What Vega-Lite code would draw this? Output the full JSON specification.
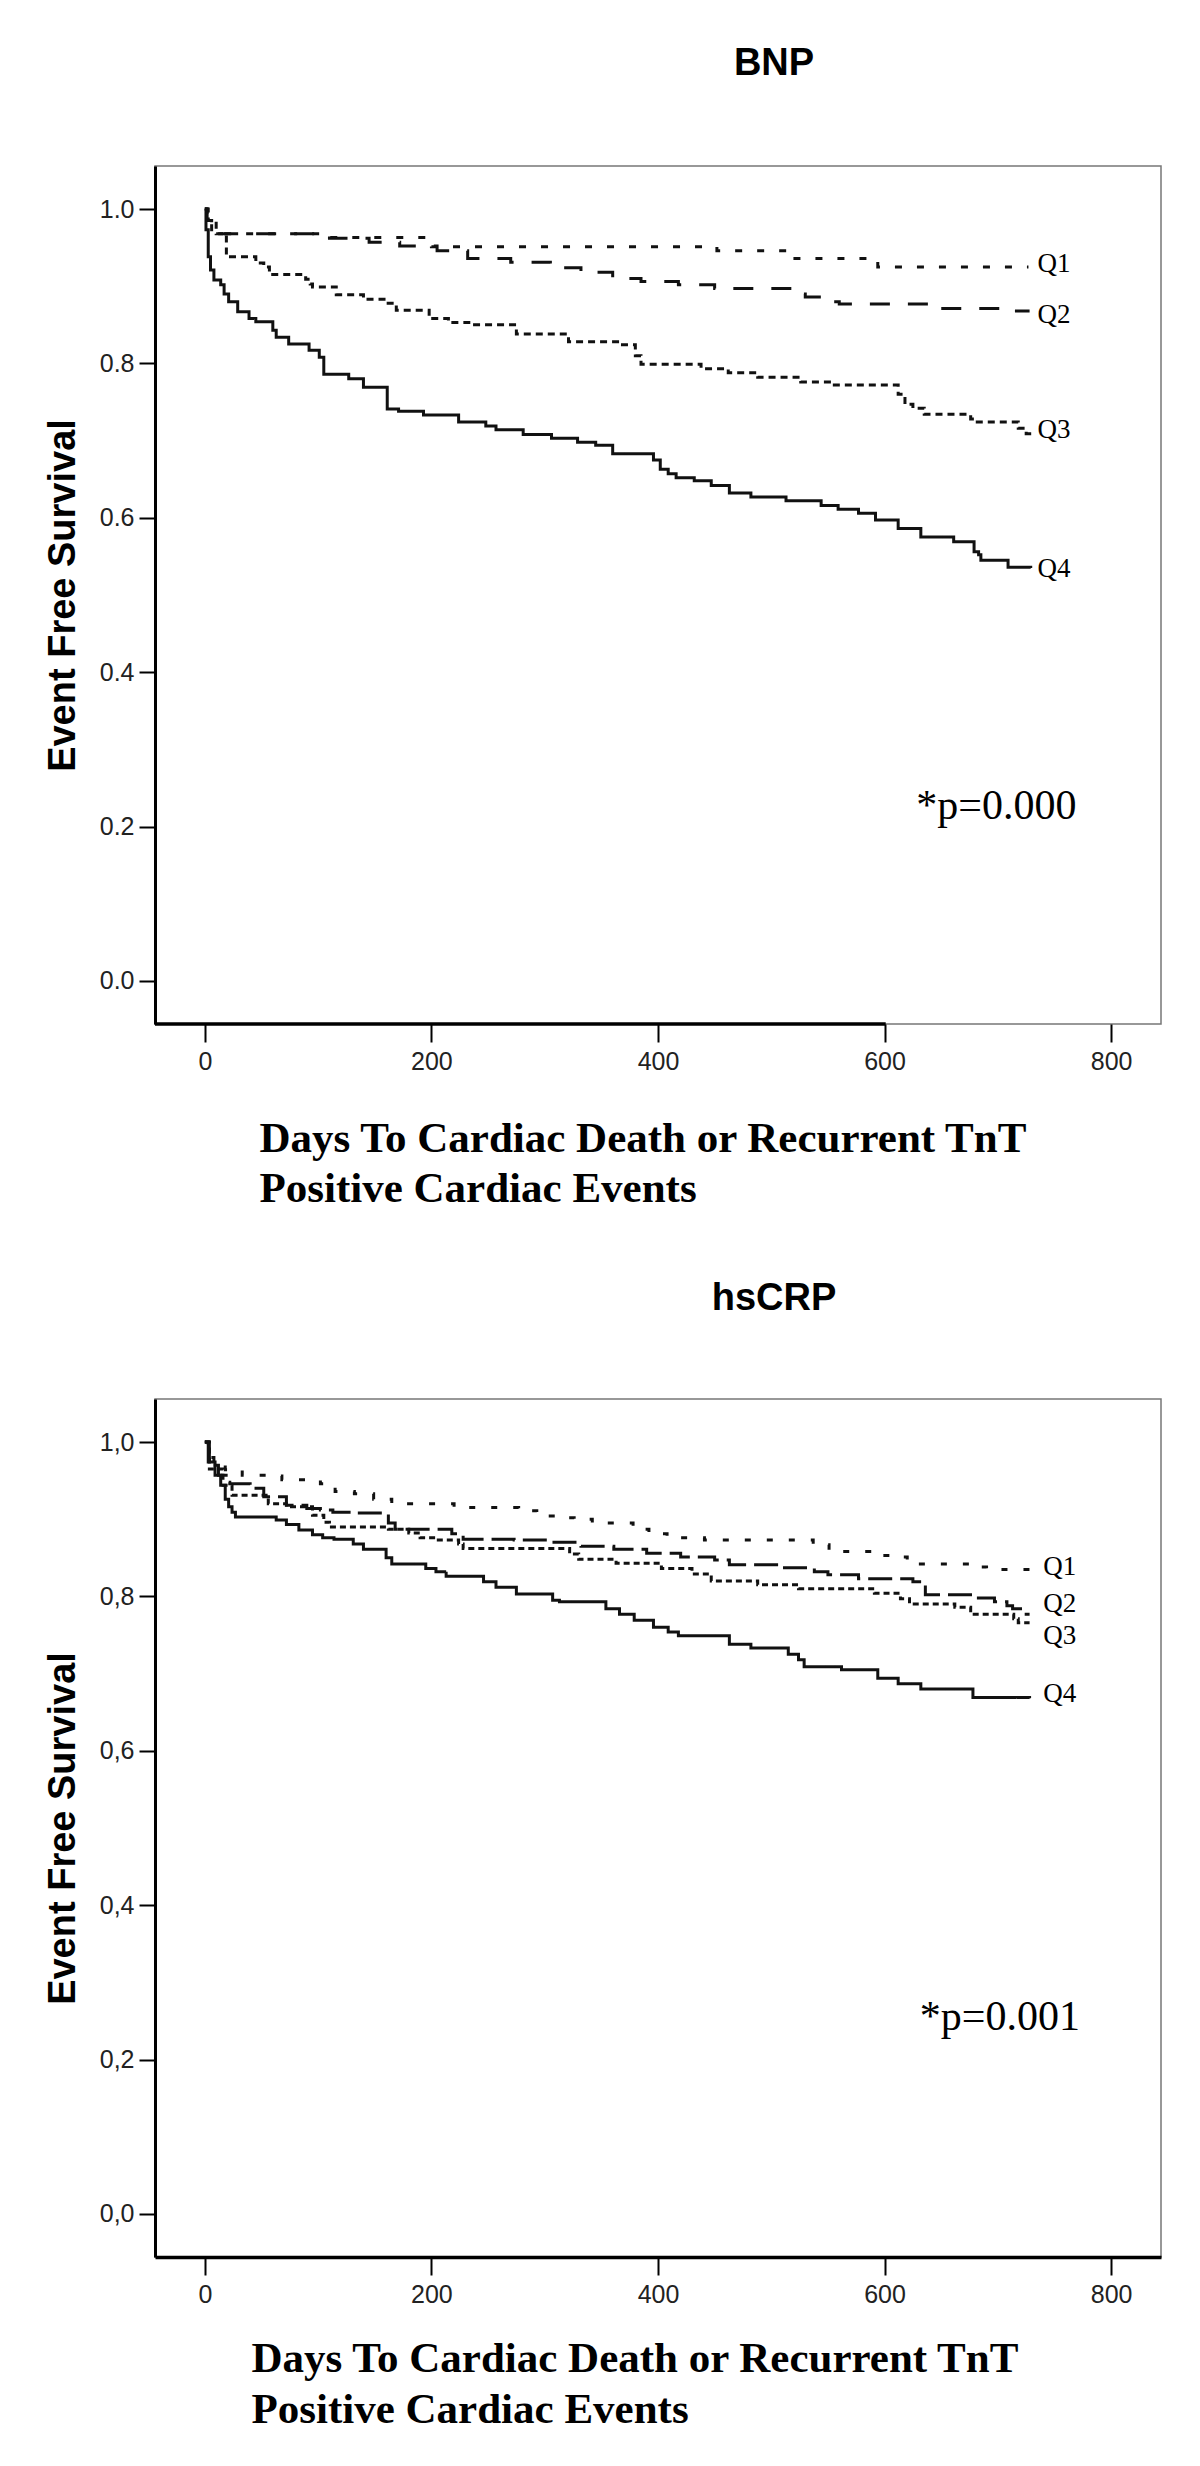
{
  "$schema": "https://vega.github.io/schema/vega-lite/v6.json",
  "padding": {"left": 43, "top": 44, "right": 5, "bottom": 5},
  "background": "white",
  "config": {
    "view": {"stroke": "#777", "strokeWidth": 1.5},
    "axis": {"grid": false, "domainColor": "#000", "domainWidth": 3, "tickColor": "#000", "tickWidth": 2, "labelFont": "Liberation Sans", "labelFontSize": 25, "labelColor": "#222"}
  },
  "spacing": 375,
  "bounds": "flush",
  "resolve": {"scale": {"x": "independent", "y": "independent", "strokeDash": "independent"}},
  "vconcat": [
    {
      "width": 1006,
      "height": 858,
      "title": {"text": "BNP", "font": "Liberation Sans", "fontSize": 38, "fontWeight": "bold", "anchor": "middle", "dx": 116, "offset": 64, "baseline": "middle", "color": "#000"},
      "layer": [
        {
          "data": {"values": [
            {"group": "Q1", "day": 0, "surv": 1}, {"group": "Q1", "day": 2, "surv": 0.985}, {"group": "Q1", "day": 6, "surv": 0.968}, {"group": "Q1", "day": 105, "surv": 0.963}, {"group": "Q1", "day": 200, "surv": 0.951}, {"group": "Q1", "day": 452, "surv": 0.946}, {"group": "Q1", "day": 517, "surv": 0.936}, {"group": "Q1", "day": 594, "surv": 0.925}, {"group": "Q1", "day": 727, "surv": 0.925},
            {"group": "Q2", "day": 0, "surv": 1}, {"group": "Q2", "day": 2, "surv": 0.985}, {"group": "Q2", "day": 6, "surv": 0.968}, {"group": "Q2", "day": 110, "surv": 0.962}, {"group": "Q2", "day": 145, "surv": 0.957}, {"group": "Q2", "day": 172, "surv": 0.952}, {"group": "Q2", "day": 205, "surv": 0.946}, {"group": "Q2", "day": 232, "surv": 0.936}, {"group": "Q2", "day": 270, "surv": 0.931}, {"group": "Q2", "day": 305, "surv": 0.924}, {"group": "Q2", "day": 332, "surv": 0.918}, {"group": "Q2", "day": 360, "surv": 0.91}, {"group": "Q2", "day": 385, "surv": 0.906}, {"group": "Q2", "day": 418, "surv": 0.902}, {"group": "Q2", "day": 450, "surv": 0.897}, {"group": "Q2", "day": 520, "surv": 0.89}, {"group": "Q2", "day": 530, "surv": 0.886}, {"group": "Q2", "day": 545, "surv": 0.88}, {"group": "Q2", "day": 560, "surv": 0.877}, {"group": "Q2", "day": 640, "surv": 0.871}, {"group": "Q2", "day": 712, "surv": 0.868}, {"group": "Q2", "day": 728, "surv": 0.868},
            {"group": "Q3", "day": 0, "surv": 1}, {"group": "Q3", "day": 3, "surv": 0.985}, {"group": "Q3", "day": 10, "surv": 0.968}, {"group": "Q3", "day": 19, "surv": 0.94}, {"group": "Q3", "day": 21, "surv": 0.938}, {"group": "Q3", "day": 45, "surv": 0.93}, {"group": "Q3", "day": 52, "surv": 0.925}, {"group": "Q3", "day": 57, "surv": 0.915}, {"group": "Q3", "day": 89, "surv": 0.909}, {"group": "Q3", "day": 93, "surv": 0.903}, {"group": "Q3", "day": 95, "surv": 0.899}, {"group": "Q3", "day": 116, "surv": 0.889}, {"group": "Q3", "day": 140, "surv": 0.883}, {"group": "Q3", "day": 160, "surv": 0.878}, {"group": "Q3", "day": 169, "surv": 0.869}, {"group": "Q3", "day": 198, "surv": 0.858}, {"group": "Q3", "day": 215, "surv": 0.853}, {"group": "Q3", "day": 233, "surv": 0.85}, {"group": "Q3", "day": 275, "surv": 0.838}, {"group": "Q3", "day": 321, "surv": 0.828}, {"group": "Q3", "day": 366, "surv": 0.824}, {"group": "Q3", "day": 380, "surv": 0.81}, {"group": "Q3", "day": 385, "surv": 0.799}, {"group": "Q3", "day": 438, "surv": 0.793}, {"group": "Q3", "day": 462, "surv": 0.788}, {"group": "Q3", "day": 488, "surv": 0.782}, {"group": "Q3", "day": 526, "surv": 0.776}, {"group": "Q3", "day": 553, "surv": 0.772}, {"group": "Q3", "day": 612, "surv": 0.76}, {"group": "Q3", "day": 618, "surv": 0.747}, {"group": "Q3", "day": 625, "surv": 0.742}, {"group": "Q3", "day": 635, "surv": 0.734}, {"group": "Q3", "day": 676, "surv": 0.728}, {"group": "Q3", "day": 679, "surv": 0.724}, {"group": "Q3", "day": 718, "surv": 0.716}, {"group": "Q3", "day": 725, "surv": 0.709}, {"group": "Q3", "day": 730, "surv": 0.709},
            {"group": "Q4", "day": 0, "surv": 1}, {"group": "Q4", "day": 1, "surv": 0.973}, {"group": "Q4", "day": 3, "surv": 0.938}, {"group": "Q4", "day": 5, "surv": 0.921}, {"group": "Q4", "day": 8, "surv": 0.908}, {"group": "Q4", "day": 14, "surv": 0.902}, {"group": "Q4", "day": 17, "surv": 0.89}, {"group": "Q4", "day": 21, "surv": 0.88}, {"group": "Q4", "day": 29, "surv": 0.867}, {"group": "Q4", "day": 39, "surv": 0.858}, {"group": "Q4", "day": 45, "surv": 0.854}, {"group": "Q4", "day": 60, "surv": 0.843}, {"group": "Q4", "day": 63, "surv": 0.834}, {"group": "Q4", "day": 74, "surv": 0.825}, {"group": "Q4", "day": 92, "surv": 0.817}, {"group": "Q4", "day": 101, "surv": 0.808}, {"group": "Q4", "day": 105, "surv": 0.786}, {"group": "Q4", "day": 127, "surv": 0.78}, {"group": "Q4", "day": 140, "surv": 0.769}, {"group": "Q4", "day": 161, "surv": 0.741}, {"group": "Q4", "day": 171, "surv": 0.738}, {"group": "Q4", "day": 193, "surv": 0.733}, {"group": "Q4", "day": 224, "surv": 0.724}, {"group": "Q4", "day": 248, "surv": 0.719}, {"group": "Q4", "day": 257, "surv": 0.714}, {"group": "Q4", "day": 281, "surv": 0.708}, {"group": "Q4", "day": 306, "surv": 0.703}, {"group": "Q4", "day": 329, "surv": 0.698}, {"group": "Q4", "day": 345, "surv": 0.694}, {"group": "Q4", "day": 360, "surv": 0.683}, {"group": "Q4", "day": 396, "surv": 0.675}, {"group": "Q4", "day": 402, "surv": 0.663}, {"group": "Q4", "day": 409, "surv": 0.657}, {"group": "Q4", "day": 416, "surv": 0.652}, {"group": "Q4", "day": 432, "surv": 0.648}, {"group": "Q4", "day": 447, "surv": 0.642}, {"group": "Q4", "day": 463, "surv": 0.632}, {"group": "Q4", "day": 482, "surv": 0.627}, {"group": "Q4", "day": 513, "surv": 0.622}, {"group": "Q4", "day": 544, "surv": 0.616}, {"group": "Q4", "day": 559, "surv": 0.611}, {"group": "Q4", "day": 577, "surv": 0.606}, {"group": "Q4", "day": 592, "surv": 0.597}, {"group": "Q4", "day": 612, "surv": 0.586}, {"group": "Q4", "day": 632, "surv": 0.575}, {"group": "Q4", "day": 661, "surv": 0.569}, {"group": "Q4", "day": 679, "surv": 0.556}, {"group": "Q4", "day": 683, "surv": 0.552}, {"group": "Q4", "day": 685, "surv": 0.545}, {"group": "Q4", "day": 709, "surv": 0.536}, {"group": "Q4", "day": 729, "surv": 0.535}
          ]},
          "mark": {"type": "line", "interpolate": "step-after", "strokeWidth": 3, "color": "#111"},
          "encoding": {
            "x": {"field": "day", "type": "quantitative", "scale": {"domain": [-44, 844], "nice": false, "zero": false},
                  "axis": {"values": [0, 200, 400, 600, 800], "format": "d", "domain": false, "tickSize": 18, "labelPadding": 7,
                           "title": ["Days To Cardiac Death or Recurrent TnT", "Positive Cardiac Events"], "titleFont": "Liberation Serif", "titleFontSize": 43, "titleFontWeight": "bold", "titleColor": "#000",
                           "titleAlign": "left", "titleAnchor": "start", "titleX": 104, "titleY": 127, "titleBaseline": "alphabetic", "titleLineHeight": 50}},
            "y": {"field": "surv", "type": "quantitative", "scale": {"domain": [-0.0557, 1.0557], "nice": false, "zero": false},
                  "axis": {"values": [0, 0.2, 0.4, 0.6, 0.8, 1], "format": ".1f", "tickSize": 16, "labelPadding": 5,
                           "title": "Event Free Survival", "titleFont": "Liberation Sans", "titleFontSize": 38, "titleFontWeight": "bold", "titleColor": "#000",
                           "titleX": -92, "titleY": 429, "titleAngle": 270, "titleBaseline": "middle", "titleAlign": "center"}},
            "strokeDash": {"field": "group", "type": "nominal", "scale": {"domain": ["Q1", "Q2", "Q3", "Q4"], "range": [[7, 15], [20, 18], [7, 5], [1, 0]]}, "legend": null}
          }
        },
        {
          "data": {"values": [
            {"label": "Q1", "day": 735, "surv": 0.918}, {"label": "Q2", "day": 735, "surv": 0.852}, {"label": "Q3", "day": 735, "surv": 0.703}, {"label": "Q4", "day": 735, "surv": 0.523}
          ]},
          "mark": {"type": "text", "font": "Liberation Serif", "fontSize": 27, "align": "left", "baseline": "alphabetic", "color": "#000"},
          "encoding": {"x": {"field": "day", "type": "quantitative"}, "y": {"field": "surv", "type": "quantitative"}, "text": {"field": "label"}}
        },
        {
          "data": {"values": [{"label": "*p=0.000", "day": 628, "surv": 0.21}]},
          "mark": {"type": "text", "font": "Liberation Serif", "fontSize": 42, "align": "left", "baseline": "alphabetic", "color": "#000"},
          "encoding": {"x": {"field": "day", "type": "quantitative"}, "y": {"field": "surv", "type": "quantitative"}, "text": {"field": "label"}}
        },
        {
          "data": {"values": [{}]},
          "mark": {"type": "rule", "color": "#000", "strokeWidth": 3.5},
          "encoding": {"x": {"datum": -44}, "x2": {"datum": 601}, "y": {"datum": -0.0557}}
        }
      ]
    },
    {
      "width": 1006,
      "height": 858,
      "title": {"text": "hsCRP", "font": "Liberation Sans", "fontSize": 38, "fontWeight": "bold", "anchor": "middle", "dx": 116, "offset": 62, "baseline": "middle", "color": "#000"},
      "layer": [
        {
          "data": {"values": [
            {"group": "Q1", "day": 0, "surv": 1}, {"group": "Q1", "day": 3, "surv": 0.98}, {"group": "Q1", "day": 8, "surv": 0.97}, {"group": "Q1", "day": 18, "surv": 0.964}, {"group": "Q1", "day": 33, "surv": 0.957}, {"group": "Q1", "day": 55, "surv": 0.956}, {"group": "Q1", "day": 68, "surv": 0.951}, {"group": "Q1", "day": 102, "surv": 0.946}, {"group": "Q1", "day": 115, "surv": 0.936}, {"group": "Q1", "day": 132, "surv": 0.933}, {"group": "Q1", "day": 149, "surv": 0.926}, {"group": "Q1", "day": 165, "surv": 0.92}, {"group": "Q1", "day": 220, "surv": 0.915}, {"group": "Q1", "day": 277, "surv": 0.911}, {"group": "Q1", "day": 293, "surv": 0.904}, {"group": "Q1", "day": 310, "surv": 0.902}, {"group": "Q1", "day": 326, "surv": 0.9}, {"group": "Q1", "day": 342, "surv": 0.895}, {"group": "Q1", "day": 378, "surv": 0.887}, {"group": "Q1", "day": 392, "surv": 0.881}, {"group": "Q1", "day": 408, "surv": 0.876}, {"group": "Q1", "day": 441, "surv": 0.873}, {"group": "Q1", "day": 537, "surv": 0.867}, {"group": "Q1", "day": 551, "surv": 0.858}, {"group": "Q1", "day": 590, "surv": 0.853}, {"group": "Q1", "day": 608, "surv": 0.851}, {"group": "Q1", "day": 620, "surv": 0.842}, {"group": "Q1", "day": 675, "surv": 0.838}, {"group": "Q1", "day": 690, "surv": 0.835}, {"group": "Q1", "day": 728, "surv": 0.835},
            {"group": "Q2", "day": 0, "surv": 1}, {"group": "Q2", "day": 4, "surv": 0.97}, {"group": "Q2", "day": 12, "surv": 0.957}, {"group": "Q2", "day": 21, "surv": 0.948}, {"group": "Q2", "day": 22, "surv": 0.946}, {"group": "Q2", "day": 40, "surv": 0.94}, {"group": "Q2", "day": 52, "surv": 0.929}, {"group": "Q2", "day": 72, "surv": 0.918}, {"group": "Q2", "day": 90, "surv": 0.914}, {"group": "Q2", "day": 102, "surv": 0.912}, {"group": "Q2", "day": 113, "surv": 0.909}, {"group": "Q2", "day": 131, "surv": 0.908}, {"group": "Q2", "day": 162, "surv": 0.895}, {"group": "Q2", "day": 168, "surv": 0.887}, {"group": "Q2", "day": 218, "surv": 0.881}, {"group": "Q2", "day": 228, "surv": 0.874}, {"group": "Q2", "day": 273, "surv": 0.873}, {"group": "Q2", "day": 303, "surv": 0.87}, {"group": "Q2", "day": 332, "surv": 0.865}, {"group": "Q2", "day": 361, "surv": 0.861}, {"group": "Q2", "day": 390, "surv": 0.856}, {"group": "Q2", "day": 420, "surv": 0.851}, {"group": "Q2", "day": 450, "surv": 0.847}, {"group": "Q2", "day": 463, "surv": 0.841}, {"group": "Q2", "day": 510, "surv": 0.837}, {"group": "Q2", "day": 538, "surv": 0.832}, {"group": "Q2", "day": 550, "surv": 0.828}, {"group": "Q2", "day": 577, "surv": 0.823}, {"group": "Q2", "day": 625, "surv": 0.819}, {"group": "Q2", "day": 636, "surv": 0.802}, {"group": "Q2", "day": 678, "surv": 0.798}, {"group": "Q2", "day": 697, "surv": 0.793}, {"group": "Q2", "day": 708, "surv": 0.788}, {"group": "Q2", "day": 713, "surv": 0.784}, {"group": "Q2", "day": 720, "surv": 0.777}, {"group": "Q2", "day": 728, "surv": 0.777},
            {"group": "Q3", "day": 0, "surv": 1}, {"group": "Q3", "day": 4, "surv": 0.965}, {"group": "Q3", "day": 16, "surv": 0.944}, {"group": "Q3", "day": 24, "surv": 0.931}, {"group": "Q3", "day": 56, "surv": 0.92}, {"group": "Q3", "day": 72, "surv": 0.916}, {"group": "Q3", "day": 95, "surv": 0.905}, {"group": "Q3", "day": 105, "surv": 0.896}, {"group": "Q3", "day": 110, "surv": 0.89}, {"group": "Q3", "day": 162, "surv": 0.887}, {"group": "Q3", "day": 180, "surv": 0.882}, {"group": "Q3", "day": 190, "surv": 0.876}, {"group": "Q3", "day": 204, "surv": 0.873}, {"group": "Q3", "day": 224, "surv": 0.868}, {"group": "Q3", "day": 228, "surv": 0.862}, {"group": "Q3", "day": 322, "surv": 0.855}, {"group": "Q3", "day": 330, "surv": 0.848}, {"group": "Q3", "day": 363, "surv": 0.843}, {"group": "Q3", "day": 403, "surv": 0.836}, {"group": "Q3", "day": 430, "surv": 0.829}, {"group": "Q3", "day": 447, "surv": 0.82}, {"group": "Q3", "day": 488, "surv": 0.815}, {"group": "Q3", "day": 524, "surv": 0.81}, {"group": "Q3", "day": 591, "surv": 0.804}, {"group": "Q3", "day": 614, "surv": 0.797}, {"group": "Q3", "day": 622, "surv": 0.79}, {"group": "Q3", "day": 662, "surv": 0.786}, {"group": "Q3", "day": 676, "surv": 0.777}, {"group": "Q3", "day": 714, "surv": 0.771}, {"group": "Q3", "day": 718, "surv": 0.766}, {"group": "Q3", "day": 728, "surv": 0.766},
            {"group": "Q4", "day": 0, "surv": 1}, {"group": "Q4", "day": 3, "surv": 0.974}, {"group": "Q4", "day": 9, "surv": 0.957}, {"group": "Q4", "day": 14, "surv": 0.944}, {"group": "Q4", "day": 18, "surv": 0.926}, {"group": "Q4", "day": 21, "surv": 0.916}, {"group": "Q4", "day": 24, "surv": 0.909}, {"group": "Q4", "day": 27, "surv": 0.903}, {"group": "Q4", "day": 63, "surv": 0.899}, {"group": "Q4", "day": 72, "surv": 0.893}, {"group": "Q4", "day": 83, "surv": 0.886}, {"group": "Q4", "day": 95, "surv": 0.88}, {"group": "Q4", "day": 104, "surv": 0.876}, {"group": "Q4", "day": 114, "surv": 0.874}, {"group": "Q4", "day": 131, "surv": 0.868}, {"group": "Q4", "day": 140, "surv": 0.861}, {"group": "Q4", "day": 160, "surv": 0.85}, {"group": "Q4", "day": 165, "surv": 0.842}, {"group": "Q4", "day": 195, "surv": 0.836}, {"group": "Q4", "day": 204, "surv": 0.832}, {"group": "Q4", "day": 213, "surv": 0.826}, {"group": "Q4", "day": 246, "surv": 0.819}, {"group": "Q4", "day": 257, "surv": 0.812}, {"group": "Q4", "day": 275, "surv": 0.803}, {"group": "Q4", "day": 307, "surv": 0.795}, {"group": "Q4", "day": 313, "surv": 0.793}, {"group": "Q4", "day": 354, "surv": 0.784}, {"group": "Q4", "day": 366, "surv": 0.777}, {"group": "Q4", "day": 379, "surv": 0.769}, {"group": "Q4", "day": 396, "surv": 0.76}, {"group": "Q4", "day": 409, "surv": 0.754}, {"group": "Q4", "day": 418, "surv": 0.749}, {"group": "Q4", "day": 463, "surv": 0.738}, {"group": "Q4", "day": 482, "surv": 0.733}, {"group": "Q4", "day": 515, "surv": 0.725}, {"group": "Q4", "day": 524, "surv": 0.718}, {"group": "Q4", "day": 529, "surv": 0.709}, {"group": "Q4", "day": 562, "surv": 0.705}, {"group": "Q4", "day": 594, "surv": 0.694}, {"group": "Q4", "day": 612, "surv": 0.687}, {"group": "Q4", "day": 632, "surv": 0.68}, {"group": "Q4", "day": 678, "surv": 0.669}, {"group": "Q4", "day": 728, "surv": 0.668}
          ]},
          "mark": {"type": "line", "interpolate": "step-after", "strokeWidth": 3, "color": "#111"},
          "encoding": {
            "x": {"field": "day", "type": "quantitative", "scale": {"domain": [-44, 844], "nice": false, "zero": false},
                  "axis": {"values": [0, 200, 400, 600, 800], "format": "d", "tickSize": 18, "labelPadding": 7, "domainWidth": 3.5,
                           "title": ["Days To Cardiac Death or Recurrent TnT", "Positive Cardiac Events"], "titleFont": "Liberation Serif", "titleFontSize": 43, "titleFontWeight": "bold", "titleColor": "#000",
                           "titleAlign": "left", "titleAnchor": "start", "titleX": 96, "titleY": 114, "titleBaseline": "alphabetic", "titleLineHeight": 51}},
            "y": {"field": "surv", "type": "quantitative", "scale": {"domain": [-0.0557, 1.0557], "nice": false, "zero": false},
                  "axis": {"values": [0, 0.2, 0.4, 0.6, 0.8, 1], "labelExpr": "replace(format(datum.value, '.1f'), '.', ',')", "tickSize": 16, "labelPadding": 5,
                           "title": "Event Free Survival", "titleFont": "Liberation Sans", "titleFontSize": 38, "titleFontWeight": "bold", "titleColor": "#000",
                           "titleX": -92, "titleY": 429, "titleAngle": 270, "titleBaseline": "middle", "titleAlign": "center"}},
            "strokeDash": {"field": "group", "type": "nominal", "scale": {"domain": ["Q1", "Q2", "Q3", "Q4"], "range": [[6, 16], [24, 8], [6, 4], [1, 0]]}, "legend": null}
          }
        },
        {
          "data": {"values": [
            {"label": "Q1", "day": 740, "surv": 0.828}, {"label": "Q2", "day": 740, "surv": 0.78}, {"label": "Q3", "day": 740, "surv": 0.738}, {"label": "Q4", "day": 740, "surv": 0.663}
          ]},
          "mark": {"type": "text", "font": "Liberation Serif", "fontSize": 27, "align": "left", "baseline": "alphabetic", "color": "#000"},
          "encoding": {"x": {"field": "day", "type": "quantitative"}, "y": {"field": "surv", "type": "quantitative"}, "text": {"field": "label"}}
        },
        {
          "data": {"values": [{"label": "*p=0.001", "day": 631, "surv": 0.238}]},
          "mark": {"type": "text", "font": "Liberation Serif", "fontSize": 42, "align": "left", "baseline": "alphabetic", "color": "#000"},
          "encoding": {"x": {"field": "day", "type": "quantitative"}, "y": {"field": "surv", "type": "quantitative"}, "text": {"field": "label"}}
        }
      ]
    }
  ]
}
